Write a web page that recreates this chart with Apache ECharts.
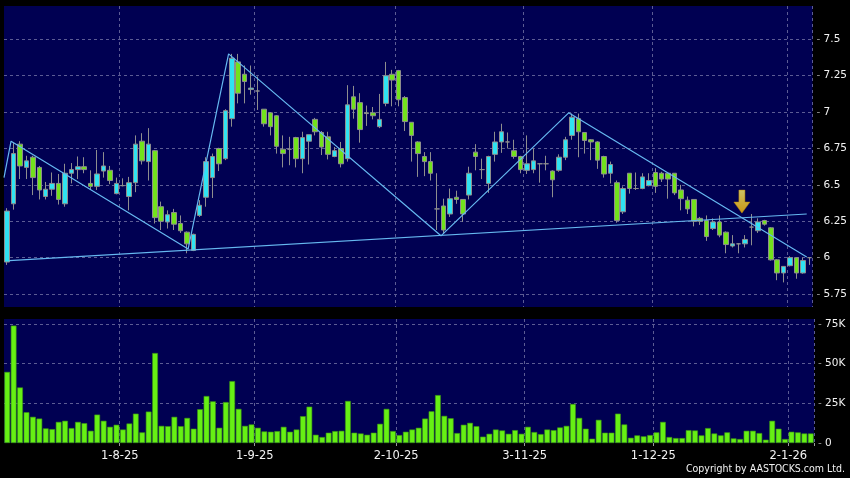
<!DOCTYPE html>
<html><head><meta charset="utf-8">
<script src="https://cdn.jsdelivr.net/npm/echarts@6/dist/echarts.min.js"></script>
<style>html,body{margin:0;padding:0;background:#000;}#c{width:850px;height:478px;}</style>
</head><body><div id="c"></div>
<script>
const dates = [
'8-7-25','9-7-25','10-7-25','11-7-25','14-7-25','15-7-25','16-7-25','17-7-25','18-7-25','21-7-25','22-7-25','23-7-25','24-7-25','25-7-25','28-7-25','29-7-25','30-7-25','31-7-25',
'1-8-25','4-8-25','5-8-25','6-8-25','7-8-25','8-8-25','11-8-25','12-8-25','13-8-25','14-8-25','15-8-25','18-8-25','19-8-25','20-8-25','21-8-25','22-8-25','25-8-25','26-8-25','27-8-25','28-8-25','29-8-25',
'1-9-25','2-9-25','3-9-25','4-9-25','5-9-25','8-9-25','9-9-25','10-9-25','11-9-25','12-9-25','15-9-25','16-9-25','17-9-25','18-9-25','19-9-25','22-9-25','23-9-25','24-9-25','25-9-25','26-9-25','29-9-25','30-9-25',
'2-10-25','3-10-25','6-10-25','8-10-25','9-10-25','10-10-25','13-10-25','14-10-25','15-10-25','16-10-25','17-10-25','20-10-25','21-10-25','22-10-25','23-10-25','24-10-25','27-10-25','28-10-25','30-10-25','31-10-25',
'3-11-25','4-11-25','5-11-25','6-11-25','7-11-25','10-11-25','11-11-25','12-11-25','13-11-25','14-11-25','17-11-25','18-11-25','19-11-25','20-11-25','21-11-25','24-11-25','25-11-25','26-11-25','27-11-25','28-11-25',
'1-12-25','2-12-25','3-12-25','4-12-25','5-12-25','8-12-25','9-12-25','10-12-25','11-12-25','12-12-25','15-12-25','16-12-25','17-12-25','18-12-25','19-12-25','22-12-25','23-12-25','24-12-25','29-12-25','30-12-25','31-12-25',
'2-1-26','5-1-26','6-1-26','7-1-26'];

const openP = [5.97,6.37,6.78,6.62,6.69,6.62,6.42,6.47,6.51,6.37,6.58,6.605,6.625,6.51,6.49,6.595,6.60,6.44,6.495,6.42,
6.515,6.80,6.66,6.735,6.35,6.245,6.31,6.235,6.175,6.05,6.29,6.415,6.55,6.75,6.68,6.955,7.345,7.26,7.155,7.145,
7.02,6.995,6.975,6.745,6.745,6.825,6.68,6.80,6.95,6.86,6.83,6.695,6.75,6.68,7.105,7.065,6.995,6.995,6.90,7.06,
7.26,7.285,7.10,6.93,6.795,6.695,6.66,6.335,6.355,6.30,6.415,6.40,6.43,6.725,6.605,6.51,6.71,6.795,6.795,6.735,
6.695,6.60,6.605,6.645,6.645,6.595,6.60,6.69,6.84,6.955,6.86,6.81,6.795,6.695,6.58,6.515,6.315,6.58,6.475,6.475,
6.495,6.585,6.58,6.58,6.58,6.465,6.395,6.40,6.27,6.255,6.20,6.245,6.175,6.08,6.095,6.095,6.21,6.185,6.255,6.205,
5.985,5.895,5.945,6.00,5.895,6.00];
const closeP = [6.32,6.715,6.63,6.665,6.55,6.465,6.47,6.51,6.40,6.58,6.605,6.625,6.605,6.49,6.575,6.63,6.53,6.51,6.495,6.515,
6.78,6.665,6.78,6.275,6.25,6.295,6.23,6.185,6.095,6.16,6.36,6.66,6.695,6.645,7.01,7.37,7.13,7.21,7.165,7.145,
6.92,6.90,6.765,6.715,6.745,6.68,6.825,6.845,6.865,6.76,6.71,6.735,6.645,7.05,7.02,6.88,6.99,6.975,6.95,7.25,
7.22,7.085,6.935,6.84,6.715,6.66,6.58,6.335,6.19,6.405,6.40,6.30,6.58,6.695,6.605,6.695,6.795,6.865,6.795,6.695,
6.605,6.645,6.665,6.645,6.645,6.535,6.69,6.81,6.965,6.865,6.805,6.795,6.67,6.575,6.64,6.255,6.475,6.475,6.475,6.555,
6.53,6.49,6.54,6.54,6.445,6.405,6.335,6.25,6.25,6.145,6.245,6.155,6.09,6.095,6.095,6.125,6.21,6.245,6.23,5.985,
5.895,5.94,6.00,5.895,5.98,6.00];
const lowP = [5.95,6.33,6.54,6.54,6.43,6.40,6.40,6.425,6.365,6.35,6.51,6.54,6.58,6.465,6.465,6.55,6.505,6.435,6.49,6.325,
6.45,6.64,6.53,6.235,6.19,6.20,6.19,6.17,6.03,6.045,6.28,6.35,6.41,6.595,6.67,6.90,7.06,7.06,7.12,7.015,
6.90,6.84,6.715,6.62,6.635,6.62,6.58,6.64,6.84,6.705,6.675,6.69,6.62,6.66,6.955,6.79,6.905,6.95,6.89,7.04,
7.04,7.04,6.87,6.66,6.555,6.56,6.53,6.19,6.165,6.28,6.37,6.245,6.40,6.60,6.54,6.445,6.66,6.72,6.75,6.68,
6.58,6.575,6.58,6.515,6.60,6.415,6.59,6.67,6.81,6.69,6.715,6.67,6.61,6.55,6.51,6.24,6.30,6.44,6.465,6.47,
6.49,6.445,6.52,6.405,6.43,6.325,6.30,6.215,6.225,6.115,6.19,6.14,6.03,6.07,6.03,6.07,6.085,6.17,6.22,5.98,
5.845,5.83,5.94,5.855,5.89,5.95];
const highP = [6.34,6.79,6.80,6.70,6.70,6.63,6.52,6.585,6.575,6.645,6.65,6.695,6.69,6.60,6.74,6.725,6.63,6.55,6.545,6.555,
6.84,6.855,6.89,6.74,6.385,6.325,6.335,6.29,6.18,6.165,6.395,6.69,6.715,6.755,7.02,7.40,7.40,7.32,7.32,7.245,
7.02,7.00,6.98,6.84,6.83,6.83,6.865,6.845,6.96,6.87,6.865,6.76,6.795,7.185,7.18,7.13,7.045,7.035,7.125,7.345,
7.29,7.29,7.11,6.93,6.80,6.725,6.725,6.58,6.405,6.475,6.46,6.40,6.625,6.78,6.68,6.70,6.865,6.92,6.86,6.81,
6.70,6.84,6.75,6.65,6.70,6.60,6.71,6.83,6.99,6.99,6.86,6.815,6.80,6.70,6.66,6.53,6.49,6.58,6.585,6.58,
6.58,6.615,6.59,6.58,6.58,6.50,6.42,6.40,6.28,6.29,6.27,6.29,6.18,6.155,6.10,6.155,6.30,6.27,6.26,6.21,
5.99,5.94,6.01,6.00,6.00,6.00];
const volumeK = [44.8,74,35,19.4,16.5,15.4,9.2,8.75,13.3,14,9.4,13.3,12.5,7.7,17.9,14,10.2,11.5,8.5,12.3,
18.5,6.7,19.8,56.7,10.8,10.6,16.5,10.6,15.8,9,21.3,29.6,26.25,9.6,25.8,39,21.5,10.8,11.7,9.6,
7.3,7.1,7.5,10.2,7.1,8.5,16.9,22.9,5.2,3.75,6.5,7.5,7.7,26.5,6.5,6,5.2,6.5,12.1,21.5,
7.5,5,7.1,8.5,9.6,15.4,20,30.2,17.1,15.6,6.25,11.5,12.7,10.6,4,5.8,8.5,7.9,5.8,8.1,
5.8,10.2,6.9,5.6,8.5,8.1,9.8,10.8,24.6,15.8,9,2.7,14.6,6.5,6.5,18.5,11.7,3.3,4.8,4.2,
5,6.7,13.3,3.75,3.1,3.1,8.1,7.9,4.8,9.4,6,4.8,6.7,2.9,2.5,7.7,7.7,6.25,2.1,14,
9,2.5,7.1,6.7,6,6];
const xTickLabels = ['1-8-25','1-9-25','2-10-25','3-11-25','1-12-25','2-1-26'];
const priceRange = [5.661, 7.729];
const priceStep = 0.25;
const volumeRange = [0, 78.15];
const volumeStep = 25;
// trend annotations in (bar index, price) units
const zigzagLine = [[-0.5,6.55],[0.6,6.80],[28.2,6.06],[34.5,7.40],[67.6,6.15],[87.5,6.995],[124.6,6.005]];
const supportLine = [[0.3,5.98],[124.6,6.30]];
const arrowMark = [[114.5,6.385]];
const copyrightText = 'Copyright by AASTOCKS.com Ltd.';

const NAVY = '#000052';
const GRIDC = '#5c5c94';
const isTick = (i, v) => xTickLabels.indexOf(v) >= 0;
const chart = echarts.init(document.getElementById('c'));
const splitDash = {show:true, interval:isTick, lineStyle:{color:GRIDC, type:[3,3], width:1}};
chart.setOption({
  animation:false,
  backgroundColor:'#000',
  grid:[
    {left:4, right:36, top:6, height:301, show:true, backgroundColor:NAVY, borderWidth:0},
    {left:4, right:36, top:319, height:124, show:true, backgroundColor:NAVY, borderWidth:0}
  ],
  xAxis:[
    {type:'category', gridIndex:0, data:dates, boundaryGap:true,
     axisLine:{show:false}, axisTick:{show:false}, axisLabel:{show:false}, splitLine:splitDash},
    {type:'category', gridIndex:1, data:dates, boundaryGap:true, offset:3,
     axisLine:{show:false},
     axisTick:{show:true, interval:isTick, length:3, lineStyle:{color:'#9a9a9a'}},
     axisLabel:{show:true, interval:isTick, color:'#f2f2f2', fontFamily:'DejaVu Sans', fontSize:11.5, margin:4, padding:[0,6.4,0,0]},
     splitLine:splitDash},
    {type:'value', gridIndex:0, min:-0.5, max:dates.length-0.5, show:false}
  ],
  yAxis:[
    {type:'value', gridIndex:0, position:'right', min:priceRange[0], max:priceRange[1],
     minInterval:priceStep, maxInterval:priceStep,
     axisLine:{show:false}, axisTick:{show:false},
     axisLabel:{showMinLabel:false, showMaxLabel:false, margin:4,
       formatter:v=>'{d|-} {v|'+v+'}',
       rich:{d:{color:'#9a9a9a', fontFamily:'DejaVu Sans', fontSize:10.5}, v:{color:'#f2f2f2', fontFamily:'DejaVu Sans', fontSize:10.5}}},
     splitLine:{show:true, showMinLine:false, showMaxLine:false, lineStyle:{color:GRIDC, type:[3,3], width:1}}},
    {type:'value', gridIndex:1, position:'right', min:volumeRange[0], max:volumeRange[1],
     minInterval:volumeStep, maxInterval:volumeStep,
     axisLine:{show:false}, axisTick:{show:false},
     axisLabel:{showMaxLabel:false, margin:4,
       formatter:v=>'{d|-} {v|'+(v===0?'0':v+'K')+'}',
       rich:{d:{color:'#9a9a9a', fontFamily:'DejaVu Sans', fontSize:10.5}, v:{color:'#f2f2f2', fontFamily:'DejaVu Sans', fontSize:10.5}}},
     splitLine:{show:true, showMinLine:false, showMaxLine:false, lineStyle:{color:GRIDC, type:[3,3], width:1}}}
  ],
  series:[
    {type:'candlestick', xAxisIndex:0, yAxisIndex:0, barWidth:5,
     data:dates.map((d,i)=>[openP[i], closeP[i], lowP[i], highP[i]]),
     itemStyle:{color:'#2fe3f2', color0:'#72e21c', borderColor:'#8e8e8e', borderColor0:'#8e8e8e', borderWidth:1}},
    {type:'bar', xAxisIndex:1, yAxisIndex:1, barWidth:5.7, data:volumeK,
     itemStyle:{color:'#66f014', borderColor:'#3d9612', borderWidth:0.6}},
    {type:'line', xAxisIndex:2, yAxisIndex:0, data:zigzagLine, symbol:'none', silent:true, z:5,
     lineStyle:{color:'#66b8f0', width:1.2}},
    {type:'line', xAxisIndex:2, yAxisIndex:0, data:supportLine, symbol:'none', silent:true, z:5,
     lineStyle:{color:'#66b8f0', width:1.2}},
    {type:'scatter', xAxisIndex:2, yAxisIndex:0, data:arrowMark, z:6, silent:true,
     symbol:'path://M5,0 L11,0 L11,12 L16,12 L8,23 L0,12 L5,12 Z', symbolSize:[16,23],
     itemStyle:{color:new echarts.graphic.LinearGradient(0,0,0,1,[{offset:0,color:'#fff36a'},{offset:1,color:'#ffbc00'}]),
       borderColor:'#c89000', borderWidth:0.6}}
  ],
  graphic:[
    {type:'text', right:5, top:464, style:{text:copyrightText, fill:'#f2f2f2',
      font:'10.5px "DejaVu Sans Condensed", "Liberation Sans", sans-serif'}}
  ]
});
</script>
</body></html>
